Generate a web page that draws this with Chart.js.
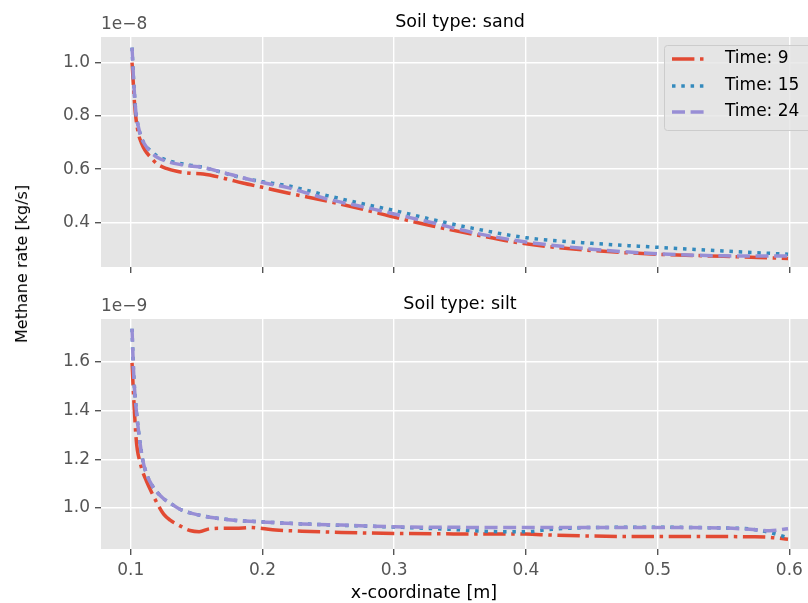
<!DOCTYPE html>
<html>
<head>
<meta charset="utf-8">
<script src="https://cdn.jsdelivr.net/npm/chart.js@4.4.0/dist/chart.umd.min.js"></script>
<style>
  html, body { margin: 0; padding: 0; background: #fff; }
  #fig { position: relative; width: 808px; height: 603px; overflow: hidden; font-family: 'DejaVu Sans', sans-serif; }
  #fig canvas { position: absolute; left: 0; }
  #top { top: 0; }
  #bottom { top: 290px; }
  .label { position: absolute; white-space: nowrap; color: #000; line-height: 1; }
  #ylabel { left: 22px; top: 264px; font-size: 16px; transform: translate(-50%, -50%) rotate(-90deg); }
  #xlabel { left: 424px; top: 593px; font-size: 17.5px; transform: translate(-50%, -50%); }
</style>
</head>
<body>
<div id="fig">
  <canvas id="top" width="819" height="290"></canvas>
  <canvas id="bottom" width="819" height="313"></canvas>
  <div class="label" id="ylabel">Methane rate [kg/s]</div>
  <div class="label" id="xlabel">x-coordinate [m]</div>
</div>
<script>
// sand column, values in 1e-8 kg/s
const xSand = [0.101, 0.102, 0.103, 0.104, 0.106, 0.108, 0.111, 0.115, 0.12, 0.127, 0.135, 0.145, 0.155,
               0.17, 0.185, 0.2, 0.22, 0.25, 0.28, 0.30, 0.33, 0.36, 0.40, 0.45, 0.50, 0.55, 0.599];
const sandTime9 = [1.00, 0.92, 0.84, 0.79, 0.73, 0.70, 0.67, 0.645, 0.62, 0.603, 0.592, 0.585, 0.582,
                   0.567, 0.548, 0.532, 0.51, 0.479, 0.445, 0.42, 0.386, 0.356, 0.32, 0.295, 0.281, 0.273, 0.265];
const sandTime15 = [1.056, 0.95, 0.87, 0.81, 0.755, 0.72, 0.69, 0.67, 0.65, 0.635, 0.624, 0.615, 0.607,
                    0.587, 0.567, 0.553, 0.537, 0.50, 0.466, 0.445, 0.41, 0.378, 0.343, 0.322, 0.307, 0.293, 0.281];
const sandTime24 = [1.056, 0.95, 0.87, 0.81, 0.755, 0.72, 0.69, 0.665, 0.645, 0.63, 0.62, 0.612, 0.606,
                    0.588, 0.568, 0.55, 0.53, 0.487, 0.455, 0.432, 0.398, 0.362, 0.327, 0.30, 0.283, 0.275, 0.274];

// silt column, values in 1e-9 kg/s
const xSilt = [0.101, 0.102, 0.103, 0.104, 0.105, 0.107, 0.109, 0.112, 0.116, 0.12, 0.125, 0.13, 0.137,
               0.145, 0.152, 0.16, 0.17, 0.18, 0.19, 0.2, 0.21, 0.23, 0.26, 0.3, 0.345, 0.38, 0.4, 0.42,
               0.45, 0.5, 0.55, 0.57, 0.585, 0.599];
const siltTime9 = [1.595, 1.48, 1.38, 1.293, 1.24, 1.19, 1.15, 1.11, 1.063, 1.02, 0.975, 0.95, 0.928,
                   0.908, 0.903, 0.915, 0.917, 0.917, 0.92, 0.916, 0.91, 0.905, 0.90, 0.896, 0.894, 0.894, 0.893, 0.889,
                   0.885, 0.883, 0.883, 0.882, 0.88, 0.872];
const siltTime15 = [1.735, 1.58, 1.48, 1.416, 1.36, 1.27, 1.20, 1.14, 1.095, 1.065, 1.038, 1.02, 0.996,
                    0.98, 0.971, 0.962, 0.955, 0.949, 0.946, 0.943, 0.94, 0.935, 0.929, 0.922, 0.912, 0.903, 0.903, 0.913,
                    0.92, 0.921, 0.918, 0.914, 0.90, 0.878];
const siltTime24 = [1.735, 1.58, 1.48, 1.416, 1.36, 1.27, 1.20, 1.14, 1.095, 1.065, 1.038, 1.02, 0.996,
                    0.98, 0.971, 0.962, 0.955, 0.949, 0.946, 0.943, 0.94, 0.935, 0.93, 0.923, 0.921, 0.92, 0.92, 0.92,
                    0.92, 0.92, 0.918, 0.913, 0.907, 0.915];

const xTicks = [0.1, 0.2, 0.3, 0.4, 0.5, 0.6];
const sandTicks = [0.4, 0.6, 0.8, 1.0];
const siltTicks = [1.0, 1.2, 1.4, 1.6];
const seriesLabels = ['Time: 9', 'Time: 15', 'Time: 24'];

const colors = ['#E24A33', '#348ABD', '#988ED5'];
const dashes = [[22.4, 5.6, 3.5, 5.6], [3.5, 5.8], [13, 5.6]];
const FONT = 'DejaVu Sans';

function toPoints(xs, ys) {
    return xs.map((x, i) => ({ x: x, y: ys[i] }));
}

// grey panel background, titles, offset text and the legend
const panelDecor = {
    id: 'panelDecor',
    beforeDraw(chart) {
        const a = chart.chartArea, ctx = chart.ctx;
        ctx.save();
        ctx.fillStyle = '#E5E5E5';
        ctx.fillRect(a.left, a.top, a.right - a.left, a.bottom - a.top);
        ctx.restore();
    },
    afterDraw(chart, args, opts) {
        const a = chart.chartArea, ctx = chart.ctx;
        ctx.save();
        ctx.font = '17.5px "' + FONT + '"';
        ctx.fillStyle = '#000';
        ctx.textAlign = 'center';
        ctx.textBaseline = 'alphabetic';
        ctx.fillText(opts.title, (a.left + a.right) / 2, a.top - 10);

        ctx.font = '17px "' + FONT + '"';
        ctx.fillStyle = '#555';
        ctx.textAlign = 'left';
        ctx.fillText(opts.offset, a.left, a.top - 8);

        if (opts.legend) {
            ctx.fillStyle = 'rgba(229,229,229,0.8)';
            ctx.strokeStyle = '#cccccc';
            ctx.lineWidth = 1;
            ctx.beginPath();
            ctx.roundRect(664.5, 45.5, 150, 85, 3);
            ctx.fill();
            ctx.stroke();
            const rows = [59, 86, 112];
            ctx.textBaseline = 'middle';
            ctx.font = '17px "' + FONT + '"';
            rows.forEach((y, i) => {
                ctx.strokeStyle = colors[i];
                ctx.lineWidth = 3.5;
                ctx.setLineDash(dashes[i]);
                ctx.beginPath();
                ctx.moveTo(672, y);
                ctx.lineTo(705, y);
                ctx.stroke();
                ctx.setLineDash([]);
                ctx.fillStyle = '#000';
                ctx.fillText(seriesLabels[i], 725, y);
            });
        }
        ctx.restore();
    }
};

function makeChart(id, xs, series, yTicks, yMin, yMax, opts) {
    const ctx = document.getElementById(id).getContext('2d');
    return new Chart(ctx, {
        type: 'line',
        data: {
            datasets: series.map((ys, i) => ({
                label: seriesLabels[i],
                data: toPoints(xs, ys),
                borderColor: colors[i],
                borderWidth: 3.5,
                borderDash: dashes[i],
                pointRadius: 0,
                fill: false,
                order: series.length - 1 - i, // later series on top, like the original
                cubicInterpolationMode: 'monotone'
            }))
        },
        options: {
            responsive: false,
            animation: false,
            layout: { padding: { top: opts.padTop, left: 0, right: 0, bottom: 0 } },
            scales: {
                x: {
                    type: 'linear',
                    min: 0.07745,
                    max: 0.6225,
                    afterBuildTicks: s => { s.ticks = xTicks.map(v => ({ value: v })); },
                    afterFit: s => { s.height = opts.xHeight; },
                    ticks: {
                        color: opts.showX ? '#555' : 'rgba(0,0,0,0)',
                        font: { family: FONT, size: 17 },
                        padding: 5,
                        maxRotation: 0,
                        autoSkip: false,
                        callback: v => v.toFixed(1)
                    },
                    grid: { color: '#fff', lineWidth: 1.4, tickColor: '#555', tickLength: 6, tickWidth: 1.4 },
                    border: { display: false }
                },
                y: {
                    type: 'linear',
                    min: yMin,
                    max: yMax,
                    afterBuildTicks: s => { s.ticks = yTicks.map(v => ({ value: v })); },
                    afterFit: s => { s.width = 101; },
                    ticks: {
                        color: '#555',
                        font: { family: FONT, size: 17 },
                        padding: 5,
                        autoSkip: false,
                        callback: v => v.toFixed(1)
                    },
                    grid: { color: '#fff', lineWidth: 1.4, tickColor: '#555', tickLength: 6, tickWidth: 1.4 },
                    border: { display: false }
                }
            },
            plugins: {
                legend: { display: false },
                tooltip: { enabled: false },
                panelDecor: { title: opts.title, offset: opts.offset, legend: opts.legend }
            }
        },
        plugins: [panelDecor]
    });
}

makeChart('top', xSand, [sandTime9, sandTime15, sandTime24], sandTicks, 0.2331, 1.0958,
    { padTop: 37, xHeight: 23, showX: false, title: 'Soil type: sand', offset: '1e\u22128', legend: true });
makeChart('bottom', xSilt, [siltTime9, siltTime15, siltTime24], siltTicks, 0.832, 1.775,
    { padTop: 29, xHeight: 54, showX: true, title: 'Soil type: silt', offset: '1e\u22129', legend: false });
</script>
</body>
</html>
